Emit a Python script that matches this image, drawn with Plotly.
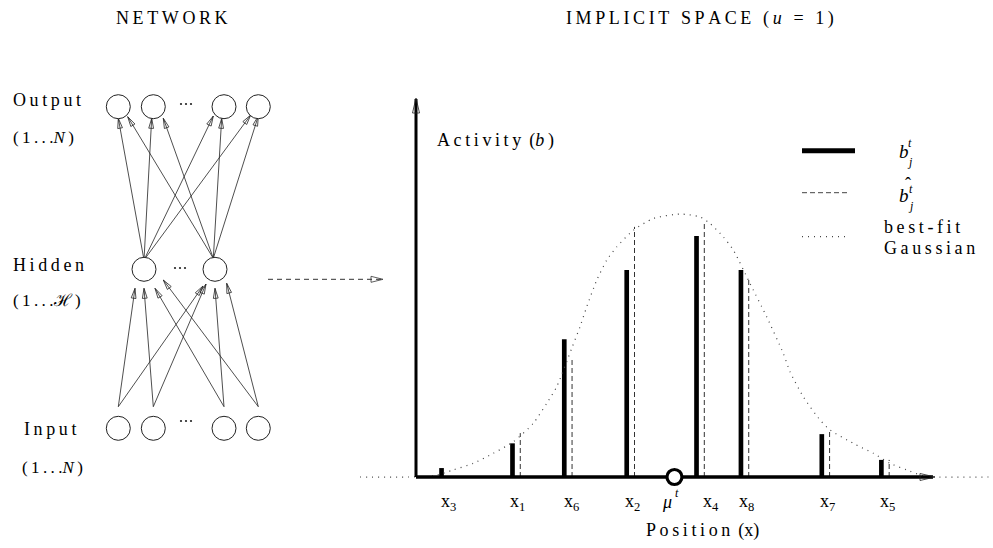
import math
import plotly.graph_objects as go

W, H = 993, 548
FONT = "Liberation Serif, Times New Roman, serif"
TS = "\u2009"  # thin space used as letter spacing

# ---------------- data (implicit space) ----------------
bar_labels = ["x<sub>3</sub>", "x<sub>1</sub>", "x<sub>6</sub>", "x<sub>2</sub>",
              "x<sub>4</sub>", "x<sub>8</sub>", "x<sub>7</sub>", "x<sub>5</sub>"]
positions = [4.92, 18.59, 28.57, 40.60, 54.05, 62.61, 78.19, 89.67]
activity = [0.034, 0.128, 0.524, 0.787, 0.916, 0.787, 0.163, 0.065]
target_activity = [0.0, 0.167, 0.452, 0.951, 0.966, 0.753, 0.175, 0.065]
mu_position = 49.8

gauss_x = [-10.8, 3.33, 7.19, 11.04, 14.89, 18.75, 22.60, 25.18, 27.11, 30.0, 31.6,
           32.89, 34.82, 36.74, 38.67, 41.87, 45.72, 50.87, 54.72, 56.65, 59.21,
           61.14, 64.35, 67.57, 70.77, 72.06, 74.63, 77.84, 79.77, 84.26, 88.11,
           91.33, 94.55, 97.74, 100.33, 110.6]
gauss_y = [0.0, 0.004, 0.027, 0.052, 0.090, 0.134, 0.204, 0.280, 0.343, 0.489, 0.571,
           0.647, 0.748, 0.824, 0.875, 0.938, 0.983, 1.0, 0.989, 0.964, 0.913,
           0.863, 0.736, 0.609, 0.470, 0.400, 0.305, 0.217, 0.179, 0.128, 0.090,
           0.052, 0.027, 0.004, 0.0, 0.0]

# ---------------- data (network schematic) ----------------
layer_x = [118.3, 153.3, 224.0, 258.3]   # output / input node columns
hidden_x = [144.0, 215.0]
edge_start_x = [144, 144, 144, 144, 213.3, 213.3, 213.3, 213.3,
                118.3, 118.3, 153.3, 153.3, 224, 224, 258.3, 258.3]
edge_start_y = [260, 260, 260, 260, 258.3, 258.3, 258.3, 258.3,
                406.7, 406.7, 406.7, 406.7, 406.7, 406.7, 406.7, 406.7]
edge_end_x = [118.3, 151.7, 213.3, 250.7, 127.7, 163.3, 221.7, 258.3,
              135, 203, 144, 206, 155, 215, 163.3, 226.7]
edge_end_y = [118.3, 118.3, 116, 115, 116.7, 118.3, 118.3, 116,
              288.3, 286, 288.3, 284, 288.3, 288.3, 280, 283.3]

# ---------------- geometry helpers ----------------
X0, SX = 416.0, 5.19    # main chart: pixel of x=0, pixels per unit
Y0, SY = 477.0, 263.0   # main chart: pixel of y=0, pixels per unit


def mx(px):
    return (px - X0) / SX


def my(py):
    return (Y0 - py) / SY


def pp(px, py):
    return px / W, 1 - py / H


def head(tx, ty, sx, sy, length=10, half=2.5):
    dx, dy = tx - sx, ty - sy
    d = math.hypot(dx, dy)
    ux, uy = dx / d, dy / d
    bx, by = tx - ux * length, ty - uy * length
    nx, ny = -uy, ux
    return ([tx, bx + nx * half, bx - nx * half, tx, None],
            [ty, by + ny * half, by - ny * half, ty, None])


def sp(s):
    return TS.join(s)


fig = go.Figure()

# ---- network schematic (axis x2/y2 in pixel-like units) ----
ex, ey, hx, hy = [], [], [], []
for sx_, sy_, tx_, ty_ in zip(edge_start_x, edge_start_y, edge_end_x, edge_end_y):
    ex += [sx_, tx_, None]
    ey += [sy_, ty_, None]
    a, b = head(tx_, ty_, sx_, sy_, 10, 2.4)
    hx += a
    hy += b
fig.add_trace(go.Scatter(x=ex, y=ey, mode="lines", line=dict(color="#222", width=0.8),
                         xaxis="x2", yaxis="y2", hoverinfo="skip"))
fig.add_trace(go.Scatter(x=hx, y=hy, mode="lines", line=dict(color="#222", width=0.8),
                         xaxis="x2", yaxis="y2", hoverinfo="skip"))
node_x = layer_x + hidden_x + layer_x
node_y = [106.7] * 4 + [269.3] * 2 + [428.3] * 4
fig.add_trace(go.Scatter(x=node_x, y=node_y, mode="markers",
                         marker=dict(symbol="circle", size=24, color="white",
                                     line=dict(color="#222", width=1)),
                         xaxis="x2", yaxis="y2", hoverinfo="skip"))
# ellipsis dots between nodes
dots_x = [186, 180, 186]
dots_y = [104, 268, 421]
fig.add_trace(go.Scatter(x=[v + o for v in dots_x for o in (-5, 0, 5)],
                         y=[v for v in dots_y for _ in range(3)], mode="markers",
                         marker=dict(symbol="circle", size=2.2, color="#222"),
                         xaxis="x2", yaxis="y2", hoverinfo="skip"))
# dashed arrow network -> implicit space
fig.add_trace(go.Scatter(x=[268, 381], y=[279.3, 279.3], mode="lines",
                         line=dict(color="#333", width=1, dash="5px,4px"),
                         xaxis="x2", yaxis="y2", hoverinfo="skip"))
a, b = head(383, 279.3, 268, 279.3, 12, 3)
fig.add_trace(go.Scatter(x=a, y=b, mode="lines", line=dict(color="#333", width=0.8),
                         xaxis="x2", yaxis="y2", hoverinfo="skip"))

# ---- implicit space chart ----
# best-fit gaussian (dotted)
fig.add_trace(go.Scatter(x=gauss_x, y=gauss_y, mode="lines",
                         line=dict(color="#444", width=1.2, dash="1px,5px", shape="spline",
                                   smoothing=0.6),
                         hoverinfo="skip"))
# target (dashed) lines
dx_, dy_ = [], []
for p, t in zip(positions, target_activity):
    if t > 0:
        dx_ += [p + 1.5, p + 1.5, None]
        dy_ += [0, t, None]
fig.add_trace(go.Scatter(x=dx_, y=dy_, mode="lines",
                         line=dict(color="#333", width=1, dash="5px,3px"), hoverinfo="skip"))
# actual activities (bars)
fig.add_trace(go.Bar(x=positions, y=activity, width=0.9,
                     marker=dict(color="black", line=dict(width=0)), hoverinfo="skip"))
# axes
fig.add_trace(go.Scatter(x=[0, 0], y=[0, my(99)], mode="lines",
                         line=dict(color="black", width=3), hoverinfo="skip"))
fig.add_trace(go.Scatter(x=[0, mx(933)], y=[0, 0], mode="lines",
                         line=dict(color="black", width=3.5), hoverinfo="skip"))
for (tx_, ty_, sx_, sy_) in [(416, 98, 416, 200), (935, 477, 800, 477)]:
    a, b = head(tx_, ty_, sx_, sy_, 15, 3.5)
    fig.add_trace(go.Scatter(x=[mx(v) if v is not None else None for v in a],
                             y=[my(v) if v is not None else None for v in b],
                             mode="lines", line=dict(color="#222", width=0.8),
                             hoverinfo="skip"))
# mu^t circle
fig.add_trace(go.Scatter(x=[mu_position], y=[0], mode="markers",
                         marker=dict(symbol="circle", size=15, color="white",
                                     line=dict(color="black", width=3.2)),
                         hoverinfo="skip"))

ann = []


def text(px, py, s, size=18, xanchor="center", yanchor="middle"):
    x, y = pp(px, py)
    ann.append(dict(x=x, y=y, xref="paper", yref="paper", text=s, showarrow=False,
                    xanchor=xanchor, yanchor=yanchor,
                    font=dict(family=FONT, size=size, color="black")))


# titles
text(172, 18, sp("NETWORK"), 18)
text(700, 18, sp("IMPLICIT SPACE (") + TS + "<i>u</i>" + TS + sp(" = 1)"), 18)
# layer labels
text(11, 100, sp("Output"), 18, "left")
text(11, 137, sp("(1...") + "<i>N</i>" + TS + ")", 17, "left")
text(11, 265, sp("Hidden"), 18, "left")
text(11, 300, sp("(1...") + "\u210B" + TS + ")", 17, "left")
text(22, 429, sp("Input"), 18, "left")
text(20, 467, sp("(1...") + "<i>N</i>" + TS + ")", 17, "left")
# chart labels
text(435, 140, sp("Activity") + TS + "\u00a0(<i>b</i>" + TS + ")", 18, "left")
text(702, 530, sp("Position") + TS + " (x)", 18)
label_shift = [7, 5, 7, 6, 14, 6, 6, 6]
for lab, p, s in zip(bar_labels, positions, label_shift):
    ann.append(dict(x=p, y=0, xref="x", yref="y", text=lab, showarrow=False,
                    xshift=s, yshift=-25, font=dict(family=FONT, size=18, color="black")))
ann.append(dict(x=mu_position, y=0, xref="x", yref="y", text="<i>μ</i>", showarrow=False,
                xshift=-7, yshift=-25, font=dict(family=FONT, size=18, color="black")))
ann.append(dict(x=mu_position, y=0, xref="x", yref="y", text="<i>t</i>", showarrow=False,
                xshift=3, yshift=-16, font=dict(family=FONT, size=12, color="black")))
# legend
text(904, 151, "<i>b</i>", 19)
text(910, 143, "<i>t</i>", 12)
text(910, 162, "<i>j</i>", 12)
text(904, 195, "<i>b</i>", 19)
text(908, 184, "\u02C6", 18)
text(911, 189, "<i>t</i>", 12)
text(911, 206, "<i>j</i>", 12)
text(882, 227, sp("best-fit"), 18, "left")
text(882, 248, sp("Gaussian"), 18, "left")

shapes = []
for (y_px, w_, dash) in [(150.7, 5, "solid"), (192.7, 1, "5px,3px"), (236.7, 1.2, "1px,5px")]:
    x1, y1 = pp(802, y_px)
    x2, _ = pp(855 if w_ == 5 else 850, y_px)
    shapes.append(dict(type="line", xref="paper", yref="paper", x0=x1, x1=x2, y0=y1, y1=y1,
                       line=dict(color="black" if w_ == 5 else "#444", width=w_, dash=dash)))

fig.update_layout(
    width=W, height=H, margin=dict(l=0, r=0, t=0, b=0, pad=0),
    paper_bgcolor="white", plot_bgcolor="rgba(0,0,0,0)", showlegend=False,
    annotations=ann, shapes=shapes,
    xaxis=dict(domain=[0, 1], range=[mx(0), mx(W)], visible=False, fixedrange=True),
    yaxis=dict(domain=[0, 1], range=[my(H), my(0)], visible=False, fixedrange=True),
    xaxis2=dict(domain=[0, 1], range=[0, W], visible=False, overlaying="x", fixedrange=True),
    yaxis2=dict(domain=[0, 1], range=[H, 0], visible=False, overlaying="y", fixedrange=True),
)
fig.write_html("out.html")
